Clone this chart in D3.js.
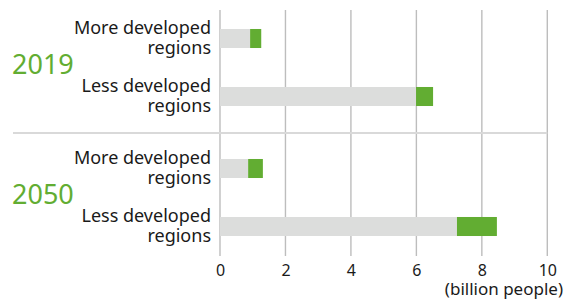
<!DOCTYPE html>
<html><head><meta charset="utf-8">
<script src="https://cdn.jsdelivr.net/npm/d3@7"></script>
<style>body{margin:0;background:#fff}svg{display:block}text{font-family:"Noto Sans","Open Sans",sans-serif;}</style>
</head><body>
<script>
const years = ["2019", "2050"];
const categories = ["More developed regions", "Less developed regions"];
const catLines = [["More developed", "regions"], ["Less developed", "regions"]];
// base (gray) and additional (green) segments, billion people
const grayValues = {"2019": [0.92, 5.99], "2050": [0.86, 7.24]};
const totalValues = {"2019": [1.26, 6.51], "2050": [1.31, 8.46]};
const ticks = [0, 2, 4, 6, 8, 10];
const unitLabel = "(billion people)";

const W = 564, H = 299;
const svg = d3.select("body").append("svg").attr("width", W).attr("height", H);
const x = d3.scaleLinear().domain([0, 10]).range([220, 547.3]);
const yOuter = d3.scaleBand().domain(years).range([3, 263]);
const yInner = d3.scaleBand().domain(categories).range([6.5, 122.5]).paddingInner(0.672).paddingOuter(0.336);

// gridlines
svg.append("g").selectAll("line").data(ticks).join("line")
  .attr("x1", d => x(d)).attr("x2", d => x(d))
  .attr("y1", 10).attr("y2", 256)
  .attr("stroke", "#bdbdbd").attr("stroke-width", 1.4);

// separator
svg.append("line").attr("x1", 13).attr("x2", 547.3)
  .attr("y1", yOuter("2050")).attr("y2", yOuter("2050"))
  .attr("stroke", "#d9d9d9").attr("stroke-width", 2);

years.forEach(yr => {
  const g = svg.append("g").attr("transform", `translate(0,${yOuter(yr)})`);
  g.append("text").attr("x", 12).attr("y", 71).attr("fill", "#62ad32")
    .attr("font-size", 27).text(yr);
  categories.forEach((c, i) => {
    const y0 = yInner(c), bh = yInner.bandwidth();
    g.append("rect").attr("x", x(0)).attr("y", y0).attr("width", x(grayValues[yr][i]) - x(0)).attr("height", bh).attr("fill", "#dcdddc");
    g.append("rect").attr("x", x(grayValues[yr][i])).attr("y", y0).attr("width", x(totalValues[yr][i]) - x(grayValues[yr][i])).attr("height", bh).attr("fill", "#62ad32");
    const cy = y0 + bh / 2;
    catLines[i].forEach((ln, k) => {
      g.append("text").attr("text-anchor", "end").attr("font-size", 18).attr("fill", "#1a1a1a")
        .attr("x", 211).attr("y", cy - 4.5 + k * 20).text(ln);
    });
  });
});

// axis
const axis = d3.axisBottom(x).tickValues(ticks).tickSize(0).tickPadding(0);
const ax = svg.append("g").attr("transform", "translate(0,262)").call(axis);
ax.select(".domain").remove();
ax.selectAll("text").attr("font-size", 16).attr("fill", "#1a1a1a")
  .attr("font-family", "Noto Sans, Open Sans, sans-serif").attr("dy", "0.9em");

svg.append("text").attr("x", 563).attr("y", 295).attr("text-anchor", "end")
  .attr("font-size", 17).attr("fill", "#1a1a1a").text(unitLabel);
</script>
</body></html>
